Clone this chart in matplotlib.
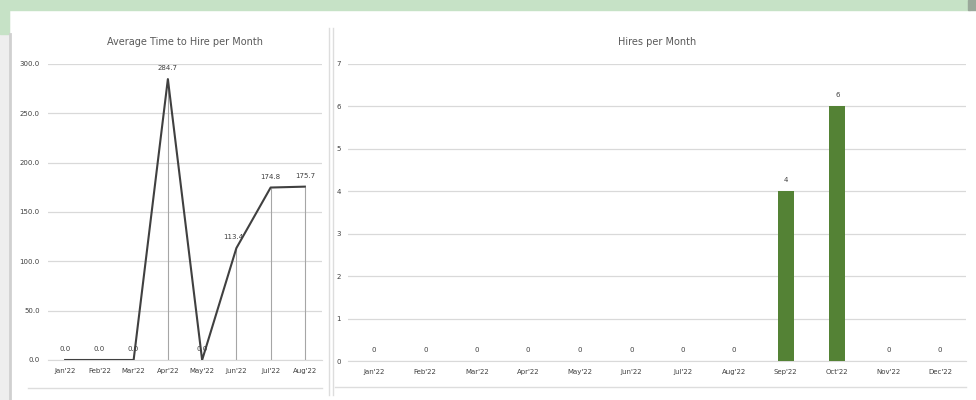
import matplotlib
matplotlib.use("Agg")
import matplotlib.pyplot as plt
from matplotlib.patches import Rectangle
from matplotlib.lines import Line2D

months_left = ["Jan'22", "Feb'22", "Mar'22", "Apr'22", "May'22", "Jun'22", "Jul'22", "Aug'22"]
avg_time = [0.0, 0.0, 0.0, 284.7, 0.0, 113.4, 174.8, 175.7]
left_yticks = [0, 50, 100, 150, 200, 250, 300]

months_right = ["Jan'22", "Feb'22", "Mar'22", "Apr'22", "May'22", "Jun'22",
                "Jul'22", "Aug'22", "Sep'22", "Oct'22", "Nov'22", "Dec'22"]
hires = [0, 0, 0, 0, 0, 0, 0, 0, 4, 6, 0, 0]
right_yticks = [0, 1, 2, 3, 4, 5, 6, 7]

W, H = 976, 400
fig = plt.figure(figsize=(9.76, 4.0), dpi=100)
fig.patch.set_facecolor("white")

def px(x0, y0, w, h):
    return (x0 / W, 1 - (y0 + h) / H, w / W, h / H)

# background decorations
bg = fig.add_axes([0, 0, 1, 1], zorder=-10)
bg.set_xlim(0, W); bg.set_ylim(H, 0); bg.axis("off")
bg.add_patch(Rectangle((0, 0), W, H, color="white"))
bg.add_patch(Rectangle((0, 0), 9, H, color="#eeeeee"))
bg.add_patch(Rectangle((0, 0), 970, 10, color="#c6e2c6"))
bg.add_patch(Rectangle((0, 0), 9, 34, color="#c6e2c6"))
bg.add_patch(Rectangle((968, 0), 8, 10, color="#9aa89a"))
bg.add_line(Line2D([10, 10], [34, 400], color="#d0d0d0", lw=2))
bg.add_line(Line2D([329, 329], [28, 395], color="#dddddd", lw=1))
bg.add_line(Line2D([333, 333], [28, 395], color="#dddddd", lw=1))
bg.add_line(Line2D([28, 322], [388, 388], color="#dddddd", lw=1))
bg.add_line(Line2D([335, 966], [387, 387], color="#dddddd", lw=1))

fs_tick = 5
txt_col = "#404040"
grid_col = "#d9d9d9"

# Left chart
ax1 = fig.add_axes(px(48, 64, 274, 296))
x1 = list(range(len(months_left)))
ax1.vlines(x1, 0, avg_time, color="#a6a6a6", lw=0.8, zorder=2)
ax1.plot(x1, avg_time, color="#404040", lw=1.5, zorder=3)
for xi, v in zip(x1, avg_time):
    dx = -0.1 if xi == 5 else 0
    ax1.text(xi + dx, v + 8, f"{v:.1f}", ha="center", va="bottom", fontsize=fs_tick, color=txt_col)
ax1.set_xlim(-0.5, len(months_left) - 0.5)
ax1.set_ylim(0, 300)
ax1.set_yticks(left_yticks)
ax1.set_yticklabels([f"{t:.1f}" for t in left_yticks])
ax1.set_xticks(x1)
ax1.set_xticklabels(months_left)
ax1.grid(axis="y", color=grid_col, lw=0.9)
ax1.set_axisbelow(True)
for s in ["top", "right", "left"]:
    ax1.spines[s].set_visible(False)
ax1.spines["bottom"].set_color(grid_col)
ax1.tick_params(length=0, labelsize=fs_tick, colors=txt_col, pad=6)
ax1.set_title("Average Time to Hire per Month", fontsize=7, color="#595959", pad=14)

# Right chart
ax2 = fig.add_axes(px(348, 64, 618, 297))
x2 = list(range(len(months_right)))
ax2.bar(x2, hires, width=0.31, color="#548235", zorder=3)
for xi, v in zip(x2, hires):
    ax2.text(xi, v + 0.2, f"{v}", ha="center", va="bottom", fontsize=fs_tick, color=txt_col)
ax2.set_xlim(-0.5, len(months_right) - 0.5)
ax2.set_ylim(0, 7)
ax2.set_yticks(right_yticks)
ax2.set_xticks(x2)
ax2.set_xticklabels(months_right)
ax2.grid(axis="y", color=grid_col, lw=0.9)
ax2.set_axisbelow(True)
for s in ["top", "right", "left"]:
    ax2.spines[s].set_visible(False)
ax2.spines["bottom"].set_color(grid_col)
ax2.tick_params(length=0, labelsize=fs_tick, colors=txt_col, pad=6)
ax2.tick_params(axis="y", pad=5)
ax2.set_title("Hires per Month", fontsize=7, color="#595959", pad=14)

fig.savefig("out.png", dpi=100)
